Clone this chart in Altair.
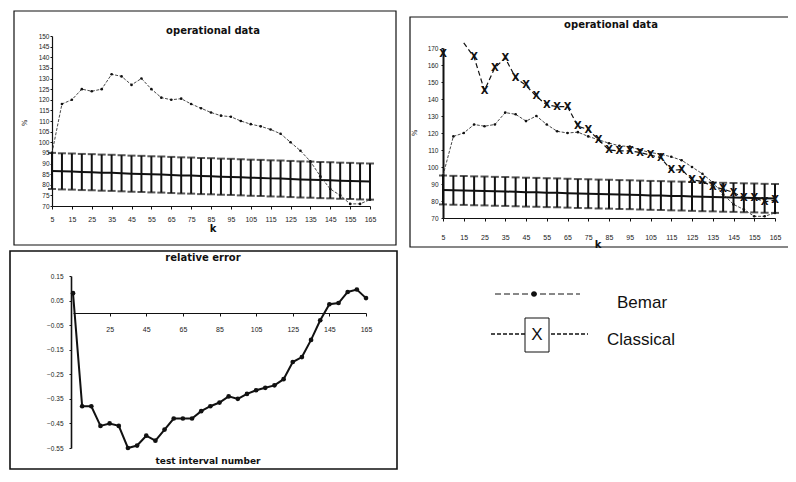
import altair as alt
import pandas as pd

# ---------------- data ----------------
k = [5, 10, 15, 20, 25, 30, 35, 40, 45, 50, 55, 60, 65, 70, 75, 80, 85,
     90, 95, 100, 105, 110, 115, 120, 125, 130, 135, 140, 145, 150, 155, 160, 165]

bemar = [95, 118, 120, 125, 124, 125, 132, 131, 127, 130, 125, 121, 120, 120.5,
         118, 116, 114, 112.5, 112, 110, 108.5, 107.5, 106, 104, 100, 96, 91, 84,
         78, 75, 71, 71, 73]

classical = [166.5, None, 173, 164.5, 145, 158.5, 164, 152.5, 148, 141.5, 136.5,
             135.5, 135.5, 124, 122, 116, 110, 109.5, 109.5, 108.5, 107, 105.5,
             98, 98.5, 92.5, 91.5, 88.5, 87, 85, 82, 82, 79.5, 80.5]

band_center = [86.5, 86.3, 86.2, 86.0, 85.9, 85.7, 85.6, 85.4, 85.2, 85.1, 84.9,
               84.8, 84.6, 84.4, 84.3, 84.1, 84.0, 83.8, 83.7, 83.5, 83.3, 83.2,
               83.0, 82.9, 82.7, 82.5, 82.4, 82.2, 82.1, 81.9, 81.8, 81.6, 81.5]
band_half = 8.5

rel_error = [0.08, -0.38, -0.38, -0.46, -0.45, -0.46, -0.55, -0.54, -0.50, -0.52,
             -0.475, -0.43, -0.43, -0.43, -0.40, -0.38, -0.365, -0.34, -0.35, -0.33,
             -0.315, -0.305, -0.295, -0.27, -0.20, -0.18, -0.11, -0.03, 0.035, 0.04,
             0.085, 0.095, 0.06]

k_ticks = [5, 15, 25, 35, 45, 55, 65, 75, 85, 95, 105, 115, 125, 135, 145, 155, 165]
p1_yticks = [70, 75, 80, 85, 90, 95, 100, 105, 110, 115, 120, 125, 130, 135, 140, 145, 150]
p2_yticks = [70, 80, 90, 100, 110, 120, 130, 140, 150, 160, 170]
p3_xticks = [25, 45, 65, 85, 105, 125, 145, 165]
p3_yticks = [0.15, 0.05, -0.05, -0.15, -0.25, -0.35, -0.45, -0.55]

titles = ["operational  data", "operational  data", "relative  error"]
x_titles = ["k", "k", "test  interval  number"]
legend_labels = ["Bemar", "Classical"]

# ---------------- table ----------------
df = pd.DataFrame({"k": k, "bemar": bemar, "classical": classical,
                   "center": band_center, "rel": rel_error})
df["low"] = df["center"] - band_half
df["high"] = df["center"] + band_half
df["seg"] = ["a" if v < 10 else "b" for v in k]

W, H = 780, 462
INK = "#111111"
LAB = "#222222"
FONT = "Liberation Sans"

P1X, P1Y = [44, 362], ([70, 150], [198, 28])
P2X, P2Y = [435, 767], ([70, 170], [210, 40])
P3X, P3Y = [65, 358], ([-0.55, 0.15], [440, 268])

src = alt.Chart(df)


def xs(rng, axis=None):
    return alt.X("k:Q", scale=alt.Scale(domain=[5, 165], range=rng, nice=False, zero=False),
                 axis=axis)


def ys(field, dr, axis=None):
    return alt.Y(f"{field}:Q", scale=alt.Scale(domain=dr[0], range=dr[1], nice=False, zero=False),
                 axis=axis)


def xaxis(vals, offset, pad, fmt="d"):
    return alt.Axis(orient="bottom", offset=offset, values=vals, title=None, grid=False,
                    tickSize=3, tickColor=INK, domainColor=INK, domainWidth=1.2,
                    labelFontSize=7, labelFont=FONT, labelColor=LAB, labelPadding=pad,
                    labelOverlap=False, labelFlush=False, format=fmt)


def yaxis(vals, offset, pad, width=1.2, fmt="d"):
    return alt.Axis(orient="left", offset=offset, values=vals, title=None, grid=False,
                    tickSize=2, tickColor=INK, domainColor=INK, domainWidth=width,
                    labelFontSize=6.5, labelFont=FONT, labelColor=LAB, labelPadding=pad,
                    labelOverlap=False, labelFlush=False, format=fmt)


def band_layers(xr, yr, x_axis, y_axis):
    rules = src.mark_rule(color=INK, strokeWidth=2).encode(
        x=xs(xr), y=ys("low", yr), y2="high:Q")
    cap_lo = src.mark_tick(orient="horizontal", size=8, thickness=2, color=INK).encode(
        x=xs(xr), y=ys("low", yr))
    cap_hi = src.mark_tick(orient="horizontal", size=8, thickness=2, color=INK).encode(
        x=xs(xr), y=ys("high", yr))
    center = src.mark_line(color=INK, strokeWidth=2).encode(
        x=xs(xr, x_axis), y=ys("center", yr, y_axis))
    return [rules, cap_lo, cap_hi, center]


def bemar_layers(xr, yr):
    line = src.mark_line(color="#333", strokeWidth=0.9, strokeDash=[3, 1.5]).encode(
        x=xs(xr), y=ys("bemar", yr))
    pts = src.mark_circle(size=7, color=INK, opacity=1).encode(x=xs(xr), y=ys("bemar", yr))
    return [line, pts]


def text_at(txt, x, y, size, bold=False, align="center", font="DejaVu Sans", angle=0):
    return alt.Chart(pd.DataFrame({"t": [txt]})).mark_text(
        fontSize=size, fontWeight="bold" if bold else "normal", font=font,
        align=align, baseline="middle", color=INK, angle=angle).encode(
        text="t:N", x=alt.value(x), y=alt.value(y))


def frame(x1, y1, x2, y2, width=1.2):
    return alt.Chart(pd.DataFrame({"f": [0]})).mark_rect(
        filled=False, stroke=INK, strokeWidth=width).encode(
        x=alt.value(x1), x2=alt.value(x2), y=alt.value(y1), y2=alt.value(y2))


layers = []

# frames
layers += [frame(6, 3, 388, 237), frame(402, 9, 800, 239), frame(2, 243, 389, H - 1, 1.6)]

# ---------- panel 1 ----------
layers += band_layers(P1X, P1Y, xaxis(k_ticks, 198 - H, 6), yaxis(p1_yticks, -44, 1))
layers += bemar_layers(P1X, P1Y)
layers += [text_at(titles[0], 205, 23, 10, bold=True),
           text_at(x_titles[0], 205, 221, 10, bold=True),
           text_at("%", 17, 115, 7, angle=270)]

# ---------- panel 2 ----------
layers += band_layers(P2X, P2Y, xaxis(k_ticks, 210 - H, 12), yaxis(p2_yticks, -435, 3, 2))
layers += bemar_layers(P2X, P2Y)
cls = src.transform_filter("isValid(datum.classical)")
layers += [
    cls.mark_line(color=INK, strokeWidth=1.2, strokeDash=[5, 3]).encode(
        x=xs(P2X), y=ys("classical", P2Y), detail="seg:N"),
    cls.transform_filter("datum.classical <= 170").mark_text(
        text="X", fontSize=10, fontWeight="bold", font="DejaVu Sans", color=INK).encode(
        x=xs(P2X), y=ys("classical", P2Y)),
]
layers += [text_at(titles[1], 603, 17, 10, bold=True),
           text_at(x_titles[1], 590, 237, 10, bold=True),
           text_at("%", 407, 125, 7, angle=270)]

# ---------- panel 3 ----------
layers += [
    src.mark_line(color=INK, strokeWidth=2).encode(
        x=xs(P3X, xaxis(p3_xticks, 305 - H, 9)),
        y=ys("rel", P3Y, yaxis(p3_yticks, -63, 6, 1.6, ".2f"))),
    src.mark_circle(size=22, color=INK, opacity=1).encode(x=xs(P3X), y=ys("rel", P3Y)),
]
layers += [text_at(titles[2], 195, 250, 10, bold=True),
           text_at(x_titles[2], 200, 453, 9, bold=True)]

# ---------- legend ----------
leg = alt.Chart(pd.DataFrame({"f": [0]}))
layers += [
    leg.mark_rule(color=INK, strokeWidth=1, strokeDash=[6, 3]).encode(
        x=alt.value(487), x2=alt.value(572), y=alt.value(286)),
    leg.mark_circle(size=30, color=INK, opacity=1).encode(x=alt.value(526), y=alt.value(286)),
    leg.mark_rule(color=INK, strokeWidth=1.5, strokeDash=[4, 2]).encode(
        x=alt.value(483), x2=alt.value(580), y=alt.value(326)),
    leg.mark_rect(fill="white", stroke=INK, strokeWidth=1).encode(
        x=alt.value(517), x2=alt.value(541), y=alt.value(310), y2=alt.value(344)),
    text_at("X", 529, 327, 17, font=FONT),
    text_at(legend_labels[0], 609, 295, 17, align="left", font=FONT),
    text_at(legend_labels[1], 599, 332, 17, align="left", font=FONT),
]

chart = alt.layer(*layers).resolve_scale(x="independent", y="independent").properties(
    width=W, height=H, padding=0, autosize=alt.AutoSizeParams(type="none"),
    background="white",
).configure_view(stroke=None)

chart.save("out.html", embed_options={"renderer": "svg", "actions": False})
